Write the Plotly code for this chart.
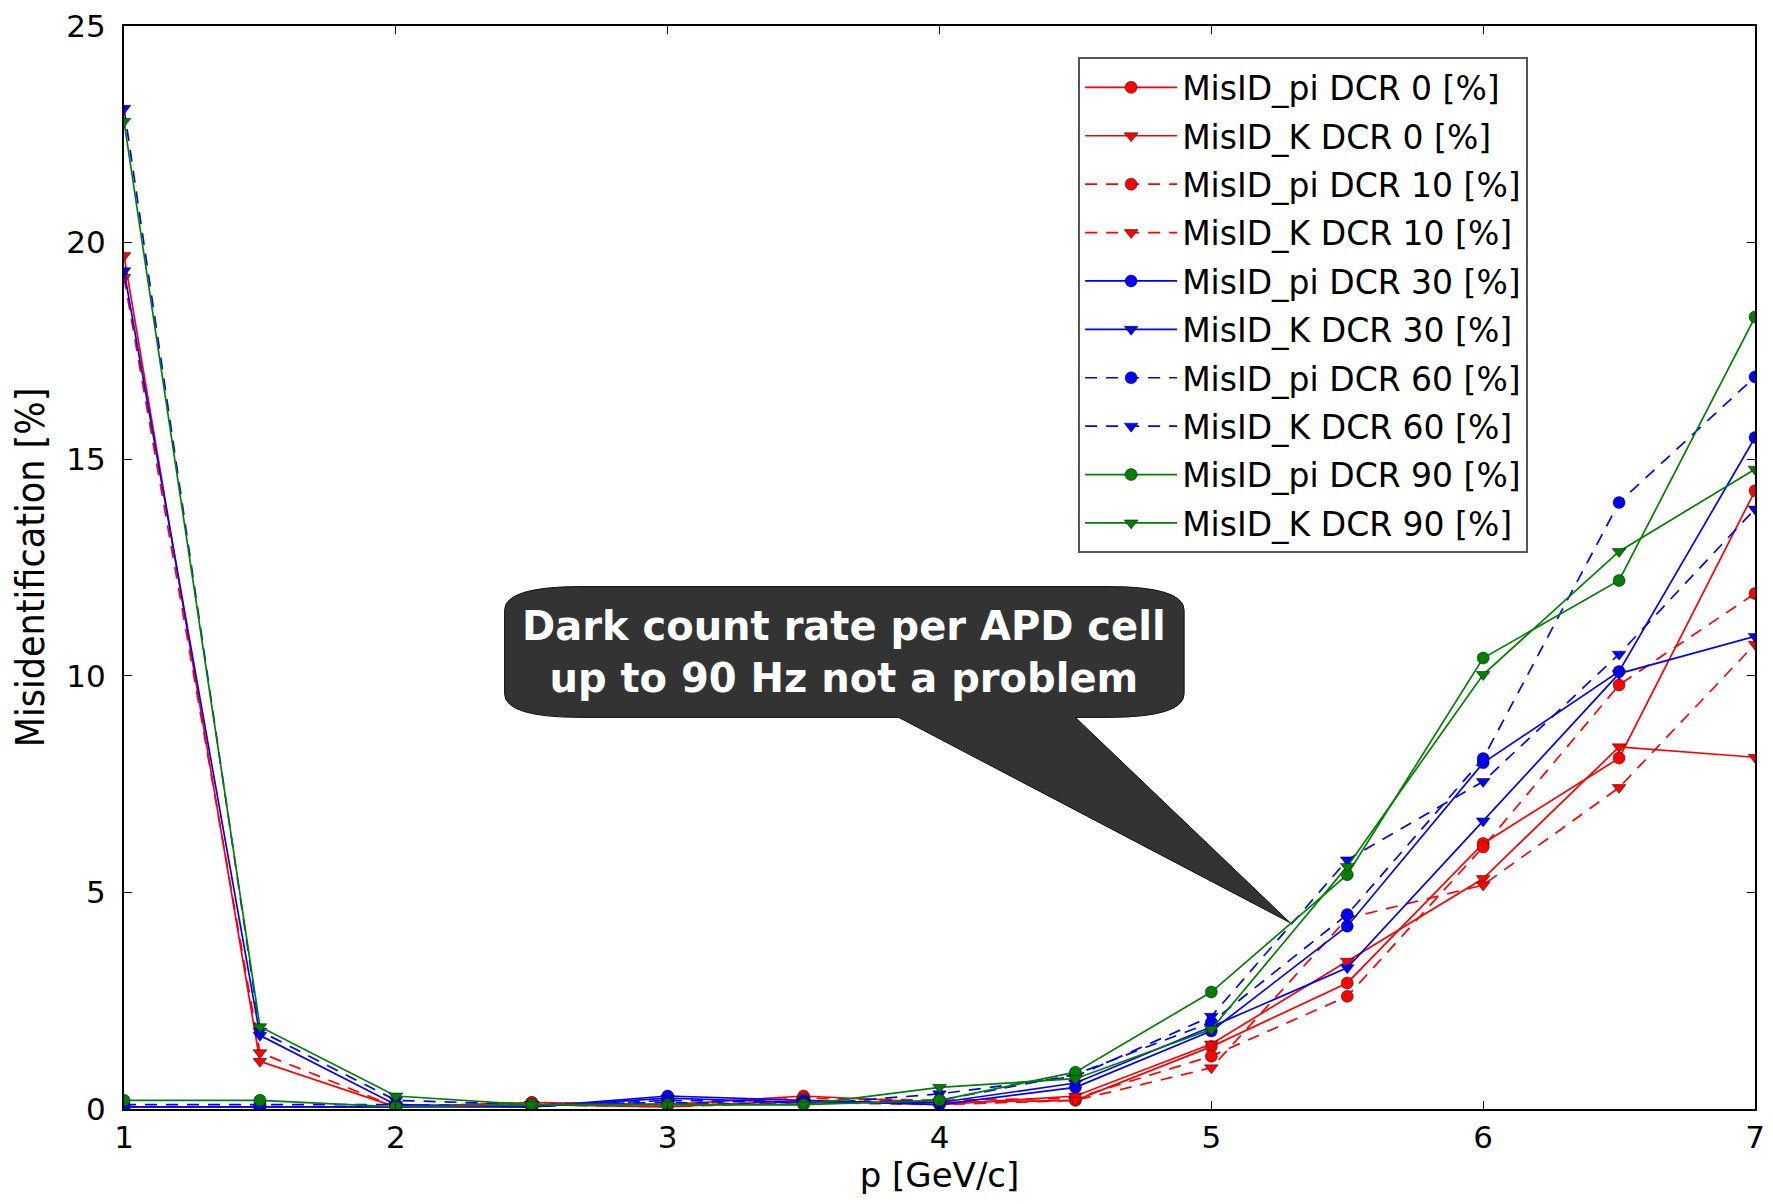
import plotly.graph_objects as go

# ---- data ----
p = [1, 1.5, 2, 2.5, 3, 3.5, 4, 4.5, 5, 5.5, 6, 6.5, 7]

pi_dcr0  = [0.05, 0.05, 0.05, 0.15, 0.10, 0.30, 0.15, 0.20, 1.44, 2.91, 6.13, 8.10, 14.27]
k_dcr0   = [19.7, 1.10, 0.05, 0.10, 0.05, 0.20, 0.10, 0.30, 1.50, 3.41, 5.32, 8.36, 8.12]
pi_dcr10 = [0.05, 0.05, 0.05, 0.15, 0.10, 0.25, 0.20, 0.25, 1.22, 2.60, 6.05, 9.79, 11.90]
k_dcr10  = [19.2, 1.30, 0.05, 0.10, 0.05, 0.15, 0.10, 0.20, 0.95, 4.40, 5.17, 7.42, 10.73]
pi_dcr30 = [0.05, 0.05, 0.05, 0.05, 0.30, 0.20, 0.10, 0.50, 1.80, 4.22, 7.99, 10.10, 15.50]
k_dcr30  = [19.35, 1.70, 0.10, 0.05, 0.25, 0.15, 0.15, 0.60, 1.90, 3.26, 6.65, 10.05, 10.91]
pi_dcr60 = [0.10, 0.10, 0.10, 0.05, 0.20, 0.15, 0.20, 0.80, 2.00, 4.49, 8.09, 14.00, 16.90]
k_dcr60  = [23.1, 1.80, 0.20, 0.10, 0.15, 0.10, 0.35, 0.75, 2.14, 5.75, 7.56, 10.50, 13.85]
pi_dcr90 = [0.20, 0.20, 0.05, 0.10, 0.10, 0.10, 0.20, 0.85, 2.70, 5.41, 10.41, 12.20, 18.28]
k_dcr90  = [22.8, 1.90, 0.30, 0.10, 0.10, 0.10, 0.50, 0.70, 1.84, 5.60, 10.03, 12.87, 14.77]

series_names = ["MisID_pi DCR 0 [%]", "MisID_K DCR 0 [%]",
                "MisID_pi DCR 10 [%]", "MisID_K DCR 10 [%]",
                "MisID_pi DCR 30 [%]", "MisID_K DCR 30 [%]",
                "MisID_pi DCR 60 [%]", "MisID_K DCR 60 [%]",
                "MisID_pi DCR 90 [%]", "MisID_K DCR 90 [%]"]
series_values = [pi_dcr0, k_dcr0, pi_dcr10, k_dcr10, pi_dcr30, k_dcr30,
                 pi_dcr60, k_dcr60, pi_dcr90, k_dcr90]

# ---- styles ----
colors = ["#ff0000", "#ff0000", "#ff0000", "#ff0000",
          "#0000ff", "#0000ff", "#0000ff", "#0000ff",
          "#007f00", "#007f00"]
dashes = ["solid", "solid", "12px,9px", "12px,9px",
          "solid", "solid", "12px,9px", "12px,9px",
          "solid", "solid"]
symbols = ["circle", "triangle-down"] * 5

fig = go.Figure()
for i, (name, vals) in enumerate(zip(series_names, series_values)):
    fig.add_trace(go.Scatter(
        x=p, y=vals, name=name, mode="lines+markers",
        legendgroup=f"g{i}",
        line=dict(color=colors[i], width=1.7, dash=dashes[i]),
        marker=dict(symbol=symbols[i], size=12, color=colors[i],
                    line=dict(color="rgba(0,0,0,0.6)", width=0.8)),
        cliponaxis=True,
    ))

# ---- callout bubble (annotation) ----
bx0, bx1, by0, by1 = 2.40, 4.90, 9.04, 12.06
rx, ry = 0.28, 0.55
tip_x, tip_y = 5.29, 4.30
base_l, base_r = 3.85, 4.50
path = (f"M {bx0},{by1-ry} Q {bx0},{by1} {bx0+rx},{by1} "
        f"L {bx1-rx},{by1} Q {bx1},{by1} {bx1},{by1-ry} "
        f"L {bx1},{by0+ry} Q {bx1},{by0} {bx1-rx},{by0} "
        f"L {base_r},{by0} L {tip_x},{tip_y} L {base_l},{by0} "
        f"L {bx0+rx},{by0} Q {bx0},{by0} {bx0},{by0+ry} Z")
fig.add_shape(type="path", path=path, xref="x", yref="y",
              fillcolor="#333333", line=dict(color="#111111", width=1), layer="above")
fig.add_annotation(x=(bx0 + bx1) / 2, y=(by0 + by1) / 2, xref="x", yref="y",
                   text="Dark count rate per APD cell<br>up to 90 Hz not a problem",
                   showarrow=False,
                   font=dict(family="DejaVu Sans, sans-serif", size=40, color="white",
                             weight="bold"))

axis_font = dict(family="DejaVu Sans, sans-serif", size=31, color="black")
fig.update_layout(
    width=1757, height=1188,
    paper_bgcolor="white", plot_bgcolor="white",
    margin=dict(l=116, r=0, t=15, b=87),
    font=axis_font,
    showlegend=True,
    legend=dict(
        x=0.585, y=0.971, xanchor="left", yanchor="top",
        bgcolor="white", bordercolor="#555555", borderwidth=2,
        font=dict(family="DejaVu Sans, sans-serif", size=33, color="black"),
        itemwidth=92, tracegroupgap=2.5,
    ),
    xaxis=dict(
        range=[1, 7], dtick=1, tick0=1,
        showline=True, linecolor="black", linewidth=2, mirror="allticks",
        ticks="inside", ticklen=8, tickcolor="black", showgrid=False, zeroline=False,
        tickfont=axis_font, ticklabeloverflow="allow",
        title=dict(text="p [GeV/c]",
                   font=dict(family="DejaVu Sans, sans-serif", size=34, color="black"),
                   standoff=8),
    ),
    yaxis=dict(
        range=[0, 25], dtick=5, tick0=0,
        showline=True, linecolor="black", linewidth=2, mirror="allticks",
        ticks="inside", ticklen=8, tickcolor="black", showgrid=False, zeroline=False,
        tickfont=axis_font, ticklabelstandoff=10, ticklabeloverflow="allow",
        title=dict(text="Misidentification [%]",
                   font=dict(family="DejaVu Sans Condensed, Liberation Sans Narrow, DejaVu Sans, sans-serif",
                             size=39, color="black"), standoff=10),
    ),
)

fig.write_html("out.html")
